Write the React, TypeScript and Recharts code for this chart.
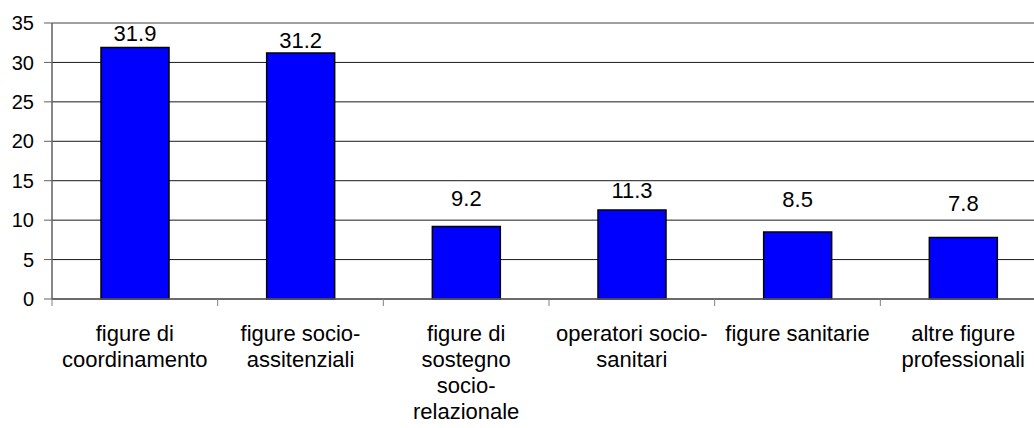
import React from 'react';
import { BarChart, Bar, XAxis, YAxis, CartesianGrid, ReferenceLine, LabelList } from 'recharts';

// Category names; "\n" marks where each label wraps under the axis
const categories = [
  'figure di\ncoordinamento',
  'figure socio-\nassitenziali',
  'figure di\nsostegno\nsocio-\nrelazionale',
  'operatori socio-\nsanitari',
  'figure sanitarie',
  'altre figure\nprofessionali',
];
const values = [31.9, 31.2, 9.2, 11.3, 8.5, 7.8];
const yTicks = [0, 5, 10, 15, 20, 25, 30, 35];

// extra space between each bar top and its value label
const labelGap = [6, 5, 20, 12, 25, 26];

const CHART_W = 1046;
const CHART_H = 428;
const Y_AXIS_W = 52;
const BAND = (CHART_W - Y_AXIS_W) / categories.length;
const FONT = '"Liberation Sans", Arial, sans-serif';

const data = categories.map((name, i) => ({ name, value: values[i] }));

const CategoryTick = (props: any) => {
  const { x, y, payload } = props;
  const lines = String(payload.value).split('\n');
  const left = x - BAND / 2;
  return (
    <g>
      <line x1={left} y1={y} x2={left} y2={y + 7} stroke="#808080" strokeWidth={1} />
      <text x={x} y={y + 42} textAnchor="middle" fontSize={22} fontFamily={FONT} fill="#000">
        {lines.map((line, i) => (
          <tspan key={i} x={x} dy={i === 0 ? 0 : 26}>
            {line}
          </tspan>
        ))}
      </text>
    </g>
  );
};

const ValueLabel = (props: any) => {
  const { x, y, width, value, index } = props;
  return (
    <text
      x={x + width / 2}
      y={y - labelGap[index]}
      textAnchor="middle"
      fontSize={22}
      fontFamily={FONT}
      fill="#000"
    >
      {value}
    </text>
  );
};

export default function App() {
  return (
    <div style={{ position: 'absolute', left: 0, top: 0, width: 1034, height: CHART_H, overflow: 'hidden', background: '#fff' }}>
      <BarChart
        width={CHART_W}
        height={CHART_H}
        data={data}
        margin={{ top: 23, right: 0, bottom: 0, left: 0 }}
        barSize={68}
      >
        <CartesianGrid vertical={false} stroke="#1a1a1a" strokeOpacity={1} />
        <ReferenceLine y={35} stroke="#a0a0a0" strokeWidth={2} ifOverflow="extendDomain" />
        <XAxis
          dataKey="name"
          interval={0}
          height={129}
          tickLine={false}
          tickSize={0}
          tickMargin={0}
          axisLine={{ stroke: '#606060', strokeWidth: 1.5 }}
          tick={<CategoryTick />}
        />
        <YAxis
          width={Y_AXIS_W}
          domain={[0, 35]}
          ticks={yTicks}
          interval={0}
          tickSize={8}
          tickMargin={10}
          axisLine={{ stroke: '#606060', strokeWidth: 1.5 }}
          tickLine={{ stroke: '#606060' }}
          tick={{ fontSize: 20, fontFamily: FONT, fill: '#000' }}
        />
        <Bar dataKey="value" fill="#0000ff" stroke="#000" strokeWidth={1.5} isAnimationActive={false}>
          <LabelList dataKey="value" content={<ValueLabel />} />
        </Bar>
      </BarChart>
    </div>
  );
}
